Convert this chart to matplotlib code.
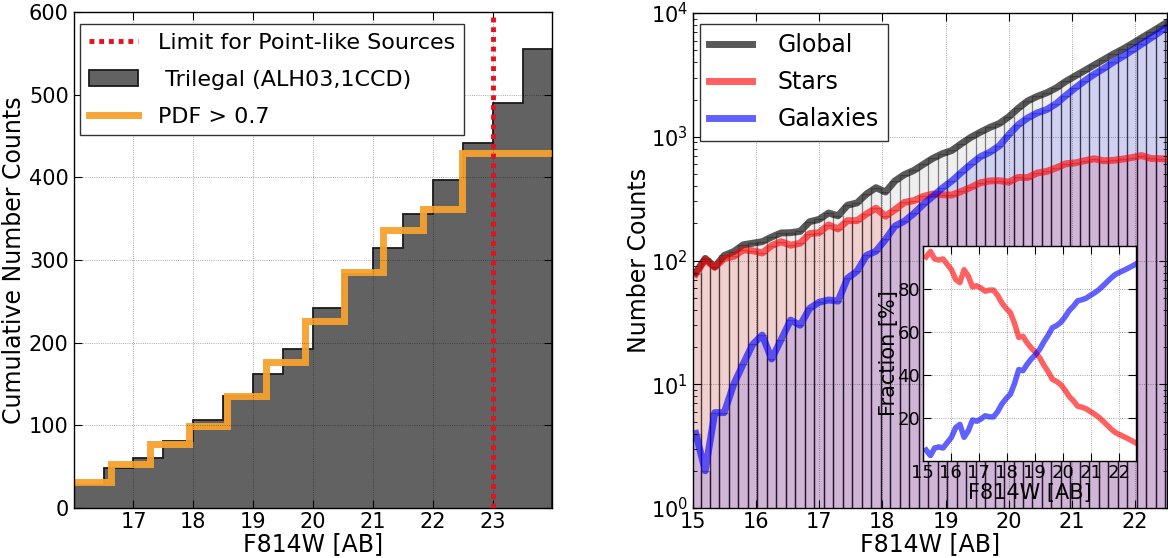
import numpy as np
import matplotlib.pyplot as plt
from matplotlib.ticker import MultipleLocator

plt.rcParams['font.family'] = ['DejaVu Sans']
plt.rcParams['xtick.direction'] = 'in'
plt.rcParams['ytick.direction'] = 'in'
plt.rcParams['xtick.top'] = True
plt.rcParams['ytick.right'] = True
plt.rcParams['xtick.major.size'] = 6
plt.rcParams['ytick.major.size'] = 6
plt.rcParams['ytick.minor.size'] = 3
plt.rcParams['axes.linewidth'] = 1.0

# ---- cumulative counts (left panel) ----
trilegal_edges = [16.0, 16.5, 17.0, 17.5, 18.0, 18.5, 19.0, 19.5, 20.0,
                  20.5, 21.0, 21.5, 22.0, 22.5, 23.0, 23.5, 24.0]
trilegal_cum = [28, 48, 60, 81, 106, 135, 162, 192, 242,
                283, 315, 355, 397, 441, 490, 555]

pdf_edges = [15.97, 16.62, 17.27, 17.93, 18.57, 19.22, 19.87, 20.51,
             21.17, 21.83, 22.49, 24.5]
pdf_cum = [31, 53, 77, 99, 135, 177, 226, 285, 336, 362, 429]

point_limit = 23.0

# ---- differential counts (right panel), bins of 0.15 mag from 14.975 ----
bin_lo = 14.975
bin_w = 0.15
global_counts = [80, 104, 89, 110, 118, 134, 138, 142, 155, 167,
                 168, 172, 206, 215, 242, 230, 280, 292, 345, 388,
                 358, 440, 495, 535, 600, 670, 730, 775, 880, 990,
                 1090, 1190, 1280, 1450, 1700, 1950, 2120, 2270, 2480, 2800,
                 3100, 3430, 3800, 4200, 4650, 5100, 5650, 6300, 7000, 7800,
                 8700]
star_counts = [78, 102, 88, 104, 108, 122, 120, 115, 132, 142,
               133, 138, 165, 168, 194, 180, 210, 210, 238, 265,
               228, 258, 295, 305, 330, 345, 340, 338, 362, 390,
               425, 440, 442, 430, 470, 468, 510, 525, 560, 605,
               615, 640, 665, 640, 645, 660, 680, 705, 668, 665,
               660]
galaxy_counts = [4.0, 2.0, 5.9, 5.9, 10, 14.6, 21, 25, 16, 23,
                 33, 30, 41, 46, 48, 47, 72, 82, 110, 119,
                 148, 190, 208, 240, 285, 330, 385, 440, 515, 600,
                 690, 750, 845, 1040, 1250, 1420, 1560, 1660, 1850, 2150,
                 2480, 2830, 3200, 3560, 4000, 4450, 4980, 5600, 6300, 7100,
                 8000]

# ---- fractions (inset), same bins, plotted at bin upper edges ----
star_frac = [95, 97.5, 94, 93.5, 94, 91.5, 89, 84.5, 83, 89,
             86, 81, 81.5, 80.5, 79, 79.5, 79.5, 77, 73.5, 71,
             69, 64, 57.5, 58, 55, 52.5, 50.5, 48, 44.5, 41.5,
             38, 37, 35.5, 33, 30, 28, 25.5, 25, 24.3, 23,
             21.8, 20.4, 18.6, 16.7, 14.8, 13.2, 12.2, 11.3, 10.3, 9.3,
             8.2]
galaxy_frac = [5, 2.5, 6, 6.5, 6, 8.5, 11, 15.5, 17, 11,
               14, 19, 18.5, 19.5, 21, 20.5, 20.5, 23, 26.5, 29,
               31, 36, 42.5, 42, 45, 47.5, 49.5, 52, 55.5, 58.5,
               62, 63, 64.5, 67, 70, 72, 74.5, 75, 75.7, 77,
               78.2, 79.6, 81.4, 83.3, 85.2, 86.8, 87.8, 88.7, 89.7, 90.7,
               91.8]

edges = bin_lo + bin_w * np.arange(len(global_counts) + 1)
centers = 0.5 * (edges[:-1] + edges[1:])

fig = plt.figure(figsize=(11.68, 5.58), dpi=100)

# ================= left: cumulative number counts =================
ax1 = fig.add_axes([0.063, 0.0896, 0.410, 0.889])
ax1.stairs(trilegal_cum, trilegal_edges, fill=True, facecolor='#626262',
           edgecolor='#1a1a1a', linewidth=1.3,
           label=' Trilegal (ALH03,1CCD)', zorder=1)
ax1.stairs(pdf_cum, pdf_edges, baseline=None, color='#f7a22e',
           linewidth=5, alpha=0.95, label='PDF > 0.7', zorder=2)
ax1.axvline(point_limit, color='#e8101c', linestyle=(0, (1, 1)),
            linewidth=3.5, label='Limit for Point-like Sources', zorder=3)
ax1.set_xlim(16, 24)
ax1.set_ylim(0, 600)
ax1.set_xticks(range(17, 24))
ax1.yaxis.set_major_locator(MultipleLocator(100))
ax1.tick_params(labelsize=15)
ax1.tick_params(axis='x', pad=3)
ax1.grid(True, color='k', linestyle=':', linewidth=0.6, alpha=0.45)
ax1.set_axisbelow(False)
ax1.set_xlabel('F814W [AB]', fontsize=17, labelpad=0)
ax1.set_ylabel('Cumulative Number Counts', fontsize=17, labelpad=2)
h, l = ax1.get_legend_handles_labels()
order = [2, 0, 1]
leg1 = ax1.legend([h[i] for i in order], [l[i] for i in order],
                  loc='upper left', bbox_to_anchor=(0.013, 0.975),
                  borderaxespad=0, fontsize=16, fancybox=False,
                  framealpha=1, edgecolor='#333333', handlelength=2.2,
                  handletextpad=0.9, labelspacing=0.75)
leg1.get_frame().set_linewidth(1.0)

# ================= right: differential number counts =================
ax2 = fig.add_axes([0.593, 0.0896, 0.406, 0.887])
bar_edge = (0, 0, 0, 0.28)
ax2.bar(edges[:-1], global_counts, width=bin_w, align='edge',
        facecolor=(0.5, 0.5, 0.5, 0.12), edgecolor=bar_edge, linewidth=0.9)
ax2.bar(edges[:-1], star_counts, width=bin_w, align='edge',
        facecolor=(1, 0, 0, 0.13), edgecolor=bar_edge, linewidth=0.9)
ax2.bar(edges[:-1], galaxy_counts, width=bin_w, align='edge',
        facecolor=(0, 0, 1, 0.13), edgecolor=bar_edge, linewidth=0.9)
ax2.plot(centers, global_counts, color='k', alpha=0.65, lw=5, label='Global')
ax2.plot(centers, star_counts, color='red', alpha=0.62, lw=5, label='Stars')
ax2.plot(centers, galaxy_counts, color='blue', alpha=0.62, lw=5,
         label='Galaxies')
ax2.set_yscale('log')
ax2.set_xlim(15, 22.5)
ax2.set_ylim(1, 1e4)
ax2.set_xticks(range(15, 23))
ax2.tick_params(labelsize=15)
ax2.tick_params(axis='x', pad=3)
ax2.grid(True, color='k', linestyle=':', linewidth=0.6, alpha=0.45)
ax2.set_axisbelow(False)
ax2.set_xlabel('F814W [AB]', fontsize=17, labelpad=0)
ax2.set_ylabel('Number Counts', fontsize=17, labelpad=0)
leg2 = ax2.legend(loc='upper left', bbox_to_anchor=(0.015, 0.978),
                  borderaxespad=0, fontsize=17, fancybox=False,
                  framealpha=1, edgecolor='#333333', handlelength=1.8,
                  handletextpad=1.1, labelspacing=0.55)
leg2.get_frame().set_linewidth(1.0)

# ---- inset: fraction of stars and galaxies ----
ax3 = fig.add_axes([0.790, 0.174, 0.183, 0.385])
ax3.plot(edges[1:], star_frac, color='red', alpha=0.62, lw=4)
ax3.plot(edges[1:], galaxy_frac, color='blue', alpha=0.62, lw=4)
ax3.set_xlim(15, edges[-1])
ax3.set_ylim(0, 100)
ax3.set_xticks(range(15, 23))
ax3.set_yticks([20, 40, 60, 80])
ax3.tick_params(labelsize=13, pad=2)
ax3.grid(True, color='k', linestyle=':', linewidth=0.6, alpha=0.45)
ax3.set_xlabel('F814W [AB]', fontsize=15, labelpad=1)
ax3.set_ylabel('Fraction [%]', fontsize=15, labelpad=-1)

fig.savefig('out.png', dpi=100)
